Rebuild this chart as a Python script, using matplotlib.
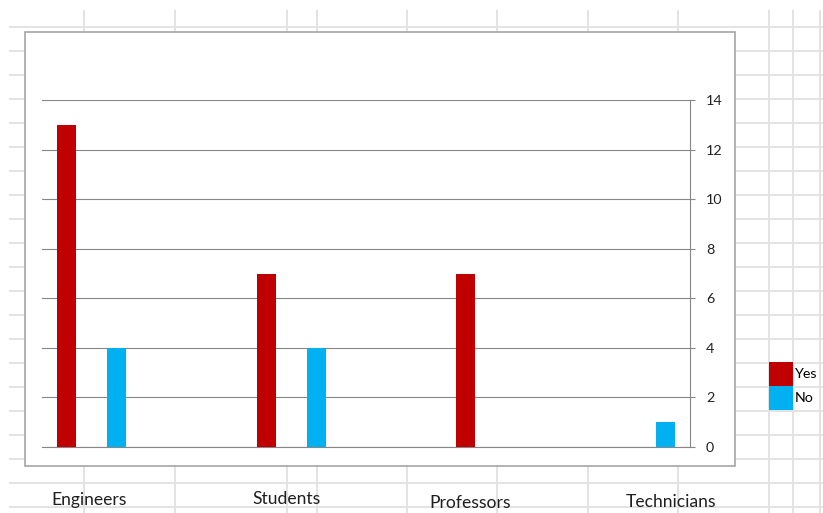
import matplotlib
matplotlib.use("Agg")
import matplotlib.pyplot as plt
from matplotlib.patches import Rectangle

# Data
categories = ["Engineers", "Students", "Professors", "Technicians"]
yes = [13, 7, 7, 0]
no = [4, 4, 0, 1]
yticks = [0, 2, 4, 6, 8, 10, 12, 14]

RED = "#C00000"
BLUE = "#00B0F0"
plt.rcParams['font.family'] = ['Lato', 'DejaVu Sans']

W, H = 823, 513
fig = plt.figure(figsize=(W / 100, H / 100), dpi=100)

# spreadsheet background (pixel coordinates)
bg = fig.add_axes([0, 0, 1, 1], zorder=0)
bg.set_xlim(0, W)
bg.set_ylim(H, 0)
bg.axis("off")
row_lines = [27 + 24 * k for k in range(21)]
col_lines = [84, 175, 287, 317, 407, 497, 588, 678, 769, 793, 820]
bg.hlines(row_lines, 9, W, color="#e3e3e3", lw=1.4)
bg.vlines(col_lines, 10, H, color="#e3e3e3", lw=1.4)
bg.add_patch(Rectangle((25, 32), 710, 434, facecolor="white",
                       edgecolor="#a6a6a6", lw=1.2, zorder=3))

# category labels sit in the cells below the chart
label_x = [89, 287, 470, 671]
label_y = [500, 499, 503, 502]
for name, lx, ly in zip(categories, label_x, label_y):
    bg.text(lx, ly, name, ha="center", va="center", fontsize=12.6,
            color="#1f1f1f", zorder=4)

# chart plot area
left, right, top, bottom = 42, 690, 100, 447
ax = fig.add_axes([left / W, 1 - bottom / H, (right - left) / W, (bottom - top) / H],
                  zorder=2)
ax.set_facecolor("none")

bw = 0.38
for i in range(len(categories)):
    x_yes = 4 * i
    x_no = 4 * i + 1 if yes[i] > 0 else 4 * i
    if yes[i] > 0:
        ax.bar(x_yes, yes[i], width=bw, color=RED, zorder=3,
               label="Yes" if i == 0 else None)
    if no[i] > 0:
        ax.bar(x_no, no[i], width=bw, color=BLUE, zorder=3,
               label="No" if i == 0 else None)

ax.set_xlim(-0.5, 12.5)
ax.set_ylim(0, 14)
ax.set_yticks(yticks)
ax.yaxis.tick_right()
ax.tick_params(axis="y", length=3.6, width=0.8, color="#868686", pad=8,
               labelsize=10.3, labelcolor="#222222")
ax.set_xticks([])
ax.grid(axis="y", color="#868686", lw=0.8, zorder=1)
for s in ["left", "top"]:
    ax.spines[s].set_visible(False)
for s in ["right", "bottom"]:
    ax.spines[s].set_color("#868686")
    ax.spines[s].set_linewidth(0.8)

ax.legend(loc="upper left", bbox_to_anchor=(769 / W, 1 - 362 / H),
          bbox_transform=fig.transFigure, frameon=False, fontsize=10.3,
          handlelength=1.68, handleheight=2.2, labelspacing=0,
          handletextpad=0.15, borderpad=0, borderaxespad=0)

fig.savefig("out.png", dpi=100)
